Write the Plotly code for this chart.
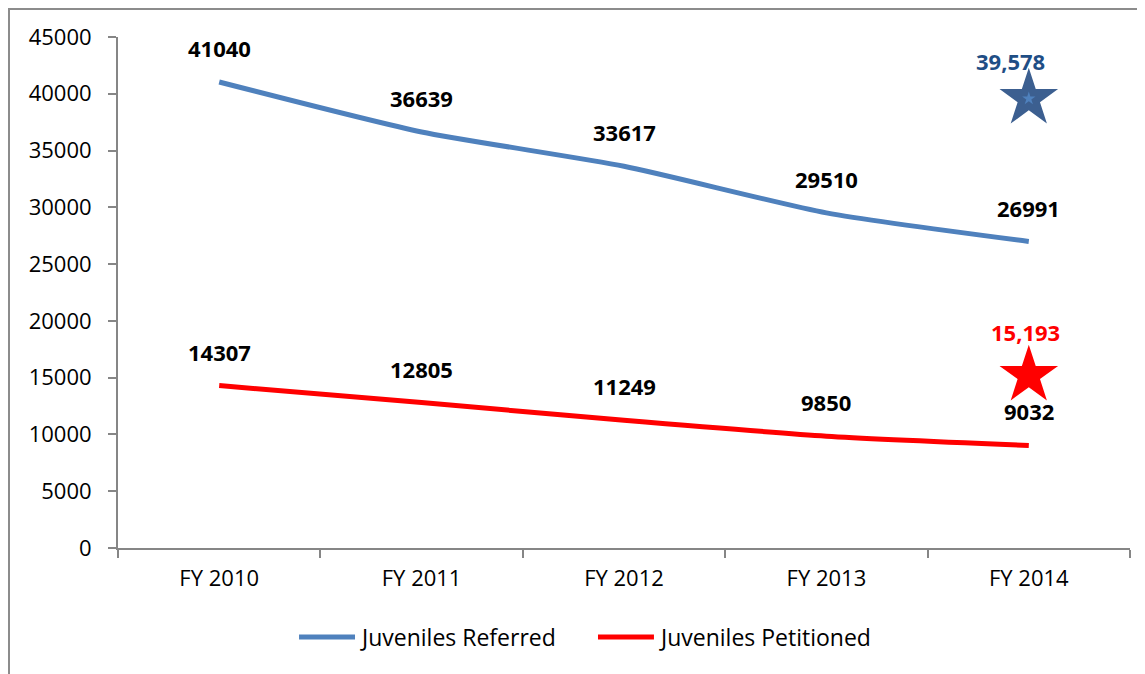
import plotly.graph_objects as go

# data
years = ["FY 2010", "FY 2011", "FY 2012", "FY 2013", "FY 2014"]
referred = [41040, 36639, 33617, 29510, 26991]
petitioned = [14307, 12805, 11249, 9850, 9032]
target_year = "FY 2014"
referred_target = 39578
petitioned_target = 15193
y_ticks = [0, 5000, 10000, 15000, 20000, 25000, 30000, 35000, 40000, 45000]
series_names = ["Juveniles Referred", "Juveniles Petitioned"]

BLUE = "#4F81BD"
RED = "#FF0000"
STAR_BLUE = "#3C5F90"
LABEL_BLUE = "#1F4E85"
AXIS = "#868686"
FONT = "Open Sans"

fig = go.Figure()

fig.add_trace(go.Scatter(
    x=years, y=referred, name=series_names[0], mode="lines",
    line=dict(color=BLUE, width=5, shape="spline", smoothing=0.6),
))
fig.add_trace(go.Scatter(
    x=years, y=petitioned, name=series_names[1], mode="lines",
    line=dict(color=RED, width=5, shape="spline", smoothing=0.6),
))

# star markers for the targets
fig.add_trace(go.Scatter(
    x=[target_year], y=[referred_target], mode="markers",
    marker=dict(symbol="star", size=44, color=STAR_BLUE, line=dict(width=0)),
    hoverinfo="skip",
))
fig.add_trace(go.Scatter(
    x=[target_year], y=[referred_target], mode="markers",
    marker=dict(symbol="star", size=10, color=BLUE, line=dict(width=0)),
    hoverinfo="skip",
))
fig.add_trace(go.Scatter(
    x=[target_year], y=[petitioned_target], mode="markers",
    marker=dict(symbol="star", size=44, color=RED, line=dict(width=0)),
    hoverinfo="skip",
))

# value labels above each point
for series in (referred, petitioned):
    for x, v in zip(years, series):
        fig.add_annotation(
            x=x, y=v, text="<b>%d</b>" % v, showarrow=False, yshift=34,
            font=dict(family=FONT, size=22, color="black"),
        )

fig.add_annotation(
    x=target_year, y=referred_target, text="<b>{:,}</b>".format(referred_target),
    showarrow=False, yshift=38, xshift=-18,
    font=dict(family=FONT, size=22, color=LABEL_BLUE),
)
fig.add_annotation(
    x=target_year, y=petitioned_target, text="<b>{:,}</b>".format(petitioned_target),
    showarrow=False, yshift=43, xshift=-3,
    font=dict(family=FONT, size=22, color=RED),
)

# legend drawn by hand (longer line samples, wider spacing like the original)
legend_y = -0.1742
for name, color, x0 in zip(series_names, [BLUE, RED], [0.1789, 0.4743]):
    fig.add_shape(type="line", xref="paper", yref="paper",
                  x0=x0, x1=x0 + 0.0553, y0=legend_y, y1=legend_y,
                  line=dict(color=color, width=5))
    fig.add_annotation(xref="paper", yref="paper", x=x0 + 0.0583, y=legend_y,
                       text=name, showarrow=False, xanchor="left", yanchor="middle",
                       font=dict(family=FONT, size=23, color="black"))

# chart border (only top and left edges are in view)
fig.add_shape(type="rect", xref="paper", yref="paper",
              x0=-0.1077, x1=1.05, y0=-0.30, y1=1.0548,
              line=dict(color="#8C8C8C", width=2), layer="below")

fig.update_xaxes(
    type="category", range=[-0.5, 4.5], showgrid=False,
    showline=True, linecolor=AXIS, linewidth=2,
    ticks="outside", tickson="boundaries", ticklen=8, tickcolor=AXIS, tickwidth=2,
    ticklabelstandoff=10,
    tickfont=dict(family=FONT, size=22, color="black"),
)
fig.update_yaxes(
    range=[0, 45000], tickvals=y_ticks, ticktext=[str(v) for v in y_ticks],
    showgrid=False, zeroline=False,
    showline=True, linecolor=AXIS, linewidth=2,
    ticks="outside", ticklen=8, tickcolor=AXIS, tickwidth=2,
    ticklabelstandoff=12,
    tickfont=dict(family=FONT, size=22, color="black"),
)

fig.update_layout(
    width=1137, height=666,
    margin=dict(l=110, r=15, t=29, b=126),
    paper_bgcolor="white", plot_bgcolor="white",
    showlegend=False,
)

fig.write_html("out.html")
